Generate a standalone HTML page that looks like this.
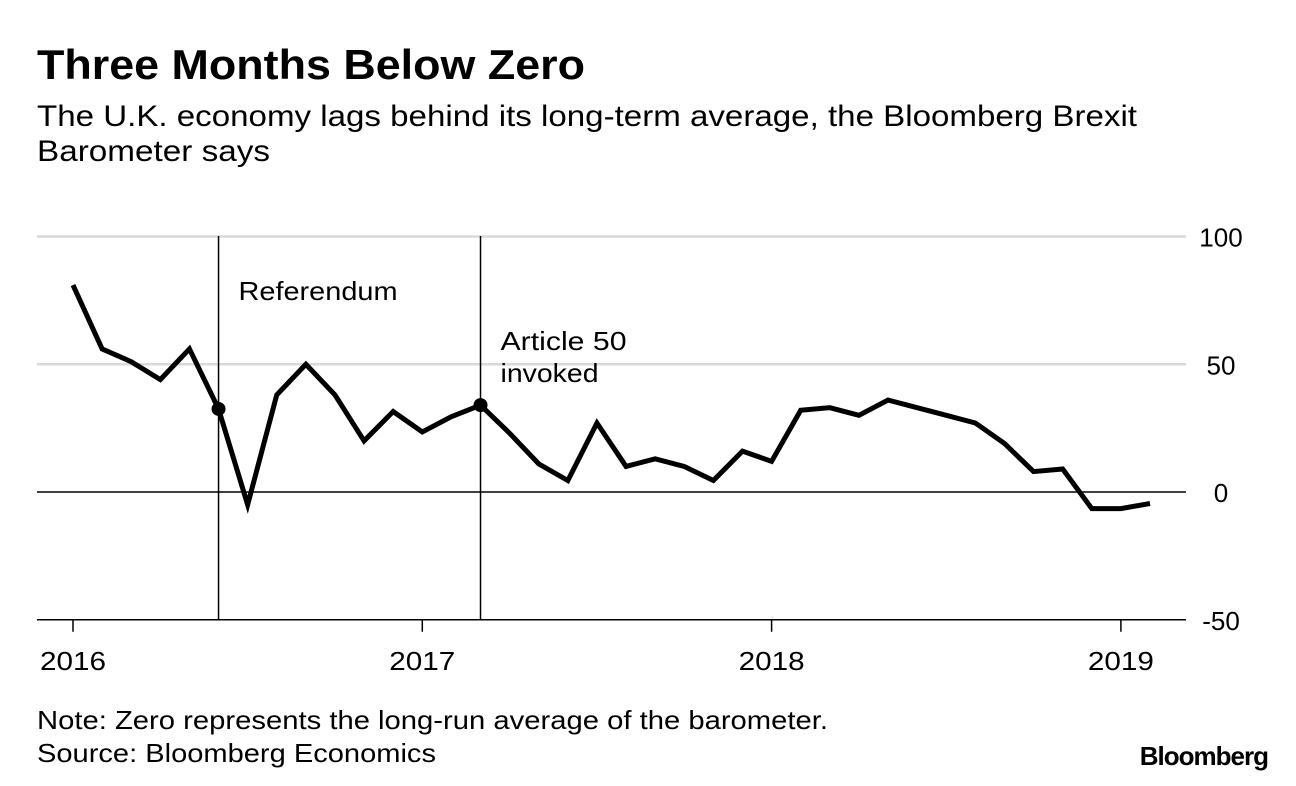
<!DOCTYPE html>
<html><head><meta charset="utf-8"><style>
body{margin:0;background:#fff;font-family:"Liberation Sans",Arial,sans-serif;}
svg{display:block}
</style></head><body>
<svg width="1296" height="786" id="c">
<text x="37" y="79" font-size="42" font-weight="bold" fill="#000" textLength="548" lengthAdjust="spacingAndGlyphs">Three Months Below Zero</text>
<text x="37" y="126" font-size="30" fill="#000" textLength="1100" lengthAdjust="spacingAndGlyphs">The U.K. economy lags behind its long-term average, the Bloomberg Brexit</text>
<text x="37" y="161" font-size="30" fill="#000" textLength="233" lengthAdjust="spacingAndGlyphs">Barometer says</text>
<g id="grid"></g>
<g id="plot"></g>
<text x="37" y="729" font-size="26" fill="#000" textLength="791" lengthAdjust="spacingAndGlyphs">Note: Zero represents the long-run average of the barometer.</text>
<text x="37" y="762" font-size="26" fill="#000" textLength="399" lengthAdjust="spacingAndGlyphs">Source: Bloomberg Economics</text>
<text x="1268" y="765" font-size="26" font-weight="bold" text-anchor="end" letter-spacing="-1" fill="#000">Bloomberg</text>
</svg>
<script>
const values=[81,56,51,44,56,32.5,-5,38,50,38,20,31.5,23.5,29.5,34,23,11,4.5,27,10,13,10,4.5,16,12,32,33,30,36,33,30,27,19,8,9,-6.5,-6.5,-4.5];
const yTicks=[100,50,0,-50];
const yearLabels=["2016","2017","2018","2019"];
const events=[{m:5,label:["Referendum"],lens:[159]},{m:14,label:["Article 50","invoked"],lens:[126,98]}];
const NS="http://www.w3.org/2000/svg";
const X=m=>73+m*(349.3/12);
const Y=v=>492-v*2.555;
function mk(tag,attrs,parent){const e=document.createElementNS(NS,tag);for(const k in attrs)e.setAttribute(k,attrs[k]);parent.appendChild(e);return e;}
const grid=document.getElementById('grid'),plot=document.getElementById('plot');
yTicks.forEach(t=>{
 const l=mk('line',{x1:37,x2:1186,y1:Y(t),y2:Y(t),stroke:t===0||t===-50?'#000':'#d9d9d9','stroke-width':t===0||t===-50?1.5:2.5},grid);
 
 
 const tx=mk('text',{x:1221,y:Y(t)+10,'font-size':26,'text-anchor':'middle'},grid);tx.textContent=t;
 
 
});
yearLabels.forEach((y,i)=>{
 const x=X(i*12);
 const t=mk('line',{x1:x,x2:x,y1:Y(-50),y2:Y(-50)+12,stroke:'#000','stroke-width':1.5},grid);
 
 
 const tx=mk('text',{x:x-33,y:670,'font-size':26,textLength:66,lengthAdjust:'spacingAndGlyphs'},grid);tx.textContent=y;
 
 
});
events.forEach(ev=>{
 const x=X(ev.m);
 const l=mk('line',{x1:x,x2:x,y1:236,y2:Y(-50),stroke:'#000','stroke-width':1.5},grid);
 
 
 ev.label.forEach((s,i)=>{
  const tx=mk('text',{x:x+20,y:(ev.m===5?300:350)+i*32,'font-size':26,textLength:ev.lens[i],lengthAdjust:'spacingAndGlyphs'},grid);tx.textContent=s;
  
  
 });
});
const p=mk('polyline',{points:values.map((v,i)=>X(i)+','+Y(v)).join(' '),fill:'none',stroke:'#000','stroke-width':5,'stroke-linejoin':'miter'},plot);


events.forEach(ev=>{
 const c=mk('circle',{cx:X(ev.m),cy:Y(values[ev.m]),r:7,fill:'#000'},plot);
 
 
});
</script>
</body></html>
